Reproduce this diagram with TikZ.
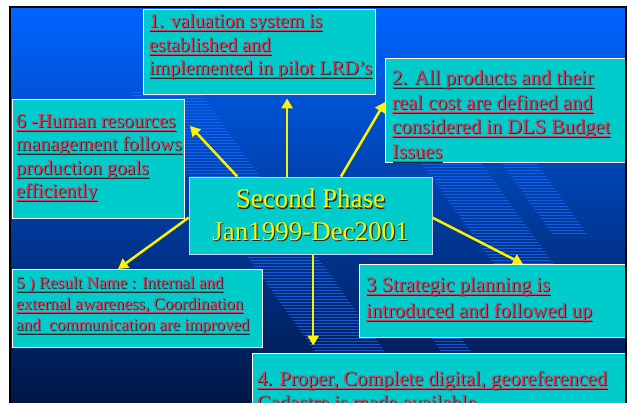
\documentclass[tikz,border=0pt]{standalone}
\usepackage{fontspec}
\setmainfont{Liberation Serif}
\usetikzlibrary{arrows.meta}

\definecolor{slidetop}{RGB}{0,100,255}
\definecolor{slidemid}{RGB}{0,60,190}
\definecolor{slidebot}{RGB}{0,22,70}
\definecolor{stripe}{RGB}{25,105,255}
\definecolor{boxcyan}{RGB}{0,204,204}
\definecolor{itemred}{RGB}{228,55,88}
\definecolor{shade}{RGB}{40,40,40}
\definecolor{lavender}{RGB}{205,205,255}

\newcommand{\uln}[1]{\leavevmode\sbox0{#1}\rlap{\usebox0}\rule[-3.6pt]{\wd0}{1.2pt}}
\newcommand{\shline}[1]{\leavevmode\rlap{\kern1pt\raisebox{-1pt}{\color{shade}\uln{#1}}}\uln{#1}}
\newcommand{\shtext}[1]{\leavevmode\rlap{\kern1.2pt\raisebox{-1.2pt}{\color{shade}#1}}#1}

\begin{document}
\begin{tikzpicture}[x=1pt, y=-1pt]
	\tikzstyle{Box} = [rectangle, draw=white, line width=0.8pt, fill=boxcyan, inner sep=0pt]
	\tikzstyle{Item} = [text=itemred, align=left, inner sep=0pt, anchor=north west, font=\fontsize{20.5}{23.5}\selectfont]
	\tikzstyle{Phase} = [Box, draw=lavender, text=yellow, align=center, font=\fontsize{27}{32.5}\selectfont]
	\tikzstyle{arrow} = [line width=2.5pt, draw=yellow, -{Triangle[length=10pt,width=11pt]}]
	
	\useasboundingbox (0,0) rectangle (627,403);
	\fill [white] (0,0) rectangle (627,403);
	\shade [top color=slidetop, middle color=slidemid, bottom color=slidebot] (11,8) rectangle (625,403);
	
	\begin{scope}
	\clip (11,8) rectangle (625,403);
	% striped bands of the slide background
	\foreach \o/\w/\a/\b in {64/70/90/403, 305/60/150/300, 385/35/155/235, 190/30/300/403}
	{
		\begin{scope}
		\clip (\o+\a/1.4,\a) -- (\o+\w+\a/1.4,\a) -- (\o+\w+\b/1.4,\b) -- (\o+\b/1.4,\b) -- cycle;
		\foreach \y in {0,3,...,402}
			\draw [stripe, line width=1pt, opacity=0.75] (0,\y) -- (627,\y);
		\end{scope}
	}
	
	\node (valuation) [Box, minimum width=232pt, minimum height=85pt] at (259,51.5) {};
	\node (products) [Box, minimum width=240pt, minimum height=104pt] at (505,110) {};
	\node (staffing) [Box, minimum width=172pt, minimum height=119pt] at (98,158.5) {};
	\node (awareness) [Box, minimum width=250pt, minimum height=78pt] at (137,308) {};
	\node (planning) [Box, minimum width=266pt, minimum height=73pt] at (492,300.5) {};
	\node (cadastre) [Box, minimum width=373pt, minimum height=77pt] at (438.5,391.5) {};
	\node (phase) [Phase, minimum width=243pt, minimum height=77pt] at (310.5,215.5) {\shtext{Second Phase}\\\shtext{Jan1999-Dec2001}};
	
	% texts of the results
	\node (valuationtext) [Item, font=\fontsize{19.8}{23.5}\selectfont] at (149,11) {\strut\shline{1. valuation system is}\\\shline{established and}\\\shline{implemented in pilot LRD's}};
	\node (productstext) [Item, font=\fontsize{20.5}{24.5}\selectfont] at (392,67.3) {\strut\shline{2. All products and their}\\\shline{real cost are defined and}\\\shline{considered in DLS Budget}\\\shline{Issues}};
	\node (staffingtext) [Item, font=\fontsize{19.8}{23.5}\selectfont] at (16,110.5) {\strut\shline{6 -Human resources}\\\shline{management follows}\\\shline{production goals}\\\shline{efficiently}};
	\node (awarenesstext) [Item, font=\fontsize{17}{20.8}\selectfont] at (16,274) {\strut\shline{5 ) Result Name : Internal and}\\\shline{external awareness, Coordination}\\\shline{and\ \ communication are improved}};
	\node (planningtext) [Item, font=\fontsize{20.5}{25.5}\selectfont] at (366,273.6) {\strut\shline{3 Strategic planning is}\\\shline{introduced and followed up}};
	\node (cadastretext) [Item, font=\fontsize{20.5}{24}\selectfont] at (257,368.7) {\strut\shline{4. Proper, Complete digital, georeferenced}\\\shline{Cadastre is made available}};
	\end{scope}
	
	\coordinate (tipstaffing) at (190,126);
	\coordinate (tipproducts) at (385,102);
	\coordinate (tipawareness) at (118,269);
	\coordinate (tipplanning) at (523,264);
	
	\draw [arrow, shorten >=4pt] (phase.121) -- (phase.121 |- valuation.south);
	\draw [arrow] (phase.152) -- (tipstaffing);
	\draw [arrow] (phase.52.5) -- (tipproducts);
	\draw [arrow] (phase.181) -- (tipawareness);
	\draw [arrow] (phase.-1) -- (tipplanning);
	\draw [arrow, shorten >=7pt] (phase.-86) -- (phase.-86 |- cadastre.north);
	
	\draw [line width=2pt] (10,403) -- (10,7) -- (625.5,7) -- (625.5,403);
\end{tikzpicture}
\end{document}
